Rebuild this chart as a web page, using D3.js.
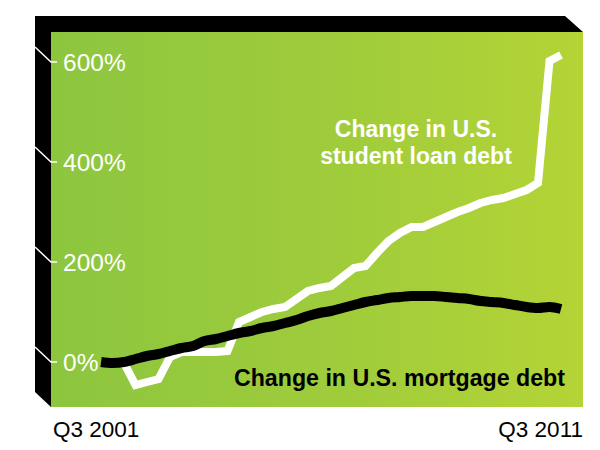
<!DOCTYPE html>
<html>
<head>
<meta charset="utf-8">
<script src="https://cdn.jsdelivr.net/npm/d3@7"></script>
<style>
  html, body { margin: 0; padding: 0; background: #ffffff; }
  svg { display: block; font-family: "Liberation Sans", Arial, Helvetica, sans-serif; }
</style>
</head>
<body>
<svg id="chart" width="600" height="450"></svg>
<script>
// Quarterly observations, Q3 2001 through Q3 2011
const quarters = [
  "2001Q3","2001Q4","2002Q1","2002Q2","2002Q3","2002Q4","2003Q1","2003Q2","2003Q3","2003Q4",
  "2004Q1","2004Q2","2004Q3","2004Q4","2005Q1","2005Q2","2005Q3","2005Q4","2006Q1","2006Q2",
  "2006Q3","2006Q4","2007Q1","2007Q2","2007Q3","2007Q4","2008Q1","2008Q2","2008Q3","2008Q4",
  "2009Q1","2009Q2","2009Q3","2009Q4","2010Q1","2010Q2","2010Q3","2010Q4","2011Q1","2011Q2",
  "2011Q3"
];

// Cumulative change since Q3 2001, percent
const studentLoanChange = [
  0, -2, -2, -46, -40, -34, 10, 20, 20, 20,
  20, 22, 80, 90, 100, 106, 110, 126, 142, 148,
  152, 170, 188, 192, 218, 242, 258, 270, 270, 280,
  290, 300, 308, 318, 324, 328, 336, 344, 358, 602,
  614
];
const mortgageChange = [
  0, -2, 0, 6, 12, 16, 22, 28, 32, 42,
  46, 52, 58, 62, 68, 72, 78, 84, 92, 98,
  102, 108, 114, 120, 124, 128, 130, 132, 132, 132,
  130, 128, 126, 122, 120, 118, 114, 110, 108, 110,
  106
];

const yTicks = [0, 200, 400, 600];
const yTickLabels = ["0%", "200%", "400%", "600%"];
const xEndLabels = ["Q3 2001", "Q3 2011"];

const svg = d3.select("#chart");

// Panel geometry
const panel = { left: 51, top: 32, right: 583, bottom: 407 };
const depth = 16;

// Background gradient
const defs = svg.append("defs");
const grad = defs.append("linearGradient")
  .attr("id", "panelGrad")
  .attr("x1", "0%").attr("x2", "100%").attr("y1", "0%").attr("y2", "0%");
grad.append("stop").attr("offset", "0%").attr("stop-color", "#8cc63f");
grad.append("stop").attr("offset", "55%").attr("stop-color", "#a0cc3b");
grad.append("stop").attr("offset", "100%").attr("stop-color", "#b4d436");

// Black extruded edges (top and left)
svg.append("path")
  .attr("d", [
    "M", panel.left - depth, panel.top - depth,
    "L", panel.right - depth - 2, panel.top - depth,
    "L", panel.right, panel.top,
    "L", panel.left, panel.top,
    "L", panel.left, panel.bottom,
    "L", panel.left - depth, panel.bottom - depth + 1,
    "Z"
  ].join(" "))
  .attr("fill", "#000");

svg.append("rect")
  .attr("x", panel.left).attr("y", panel.top)
  .attr("width", panel.right - panel.left)
  .attr("height", panel.bottom - panel.top)
  .attr("fill", "url(#panelGrad)");

// Scales
const x = d3.scalePoint().domain(quarters).range([101, 561]);
const y = d3.scaleLinear().domain([0, 600]).range([362, 62]);

// Y ticks: diagonal lines crossing the black edge, then labels
const tickG = svg.append("g");
yTicks.forEach((v, i) => {
  const ty = y(v);
  tickG.append("path")
    .attr("d", `M${panel.left - depth},${ty - 15} L${panel.left},${ty} L${panel.left + 6},${ty}`)
    .attr("fill", "none")
    .attr("stroke", "#fff")
    .attr("stroke-width", 1.5);
  tickG.append("text")
    .attr("x", 63)
    .attr("y", ty + 9)
    .attr("fill", "#fff")
    .attr("font-size", 24.5)
    .text(yTickLabels[i]);
});

// Lines
const line = d3.line()
  .x((d, i) => x(quarters[i]))
  .y(d => y(d));

svg.append("path")
  .datum(studentLoanChange)
  .attr("d", line)
  .attr("fill", "none")
  .attr("stroke", "#fff")
  .attr("stroke-width", 8)
  .attr("stroke-linejoin", "miter")
  .attr("stroke-linecap", "butt");

svg.append("path")
  .datum(mortgageChange)
  .attr("d", line.curve(d3.curveMonotoneX))
  .attr("fill", "none")
  .attr("stroke", "#000")
  .attr("stroke-width", 10)
  .attr("stroke-linejoin", "round")
  .attr("stroke-linecap", "butt");

// Series labels
const studentLabel = svg.append("text")
  .attr("x", 416)
  .attr("fill", "#fff")
  .attr("font-size", 23)
  .attr("font-weight", "bold")
  .attr("text-anchor", "middle");
studentLabel.append("tspan").attr("x", 416).attr("y", 137).text("Change in U.S.");
studentLabel.append("tspan").attr("x", 416).attr("y", 164).text("student loan debt");

svg.append("text")
  .attr("x", 565)
  .attr("y", 386)
  .attr("fill", "#000")
  .attr("font-size", 23.2)
  .attr("font-weight", "bold")
  .attr("text-anchor", "end")
  .text("Change in U.S. mortgage debt");

// X end labels
svg.append("text")
  .attr("x", 53).attr("y", 437)
  .attr("fill", "#000")
  .attr("font-size", 22.5)
  .text(xEndLabels[0]);
svg.append("text")
  .attr("x", 583).attr("y", 437)
  .attr("fill", "#000")
  .attr("font-size", 22.5)
  .attr("text-anchor", "end")
  .text(xEndLabels[1]);
</script>
</body>
</html>
